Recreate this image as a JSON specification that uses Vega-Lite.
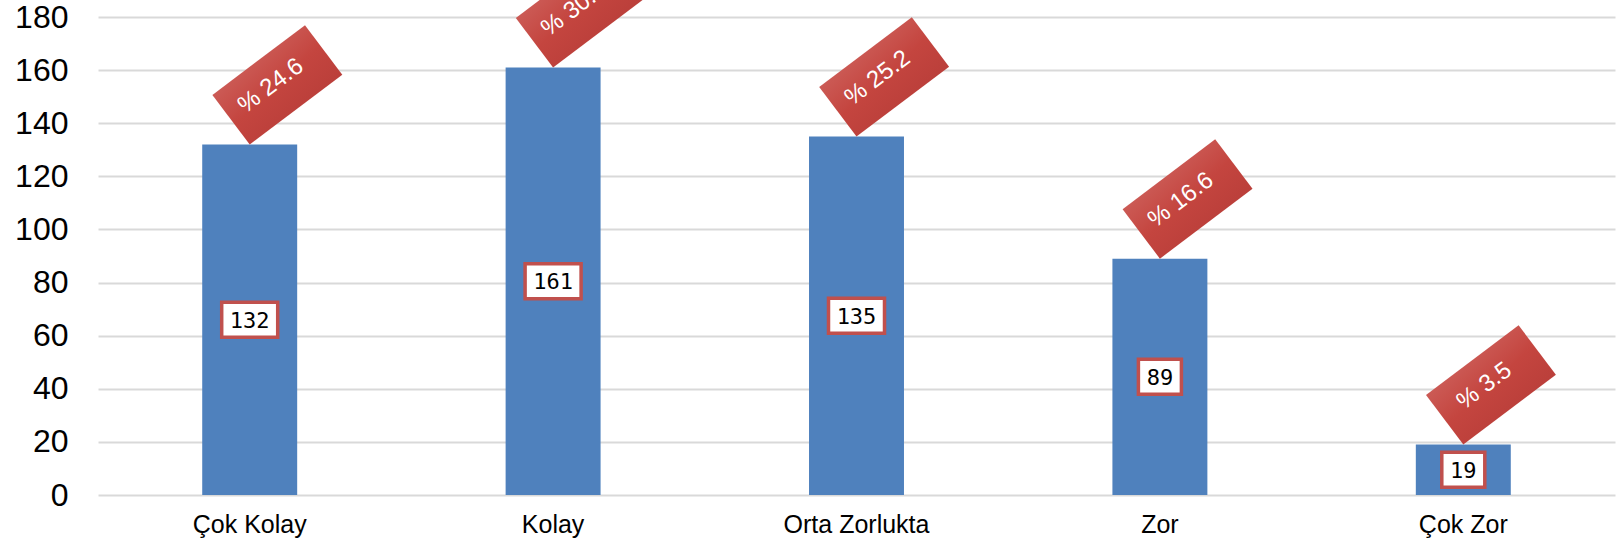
{
  "$schema": "https://vega.github.io/schema/vega-lite/v6.json",
  "width": 1517,
  "height": 478,
  "autosize": {"type": "none"},
  "padding": {"left": 98, "top": 17, "right": 5, "bottom": 55},
  "background": "white",
  "config": {"view": {"stroke": null}, "font": "Liberation Sans"},
  "data": {"values": [
    {"cat": "Çok Kolay", "n": 132, "pct": "% 24.6"},
    {"cat": "Kolay", "n": 161, "pct": "% 30.0"},
    {"cat": "Orta Zorlukta", "n": 135, "pct": "% 25.2"},
    {"cat": "Zor", "n": 89, "pct": "% 16.6"},
    {"cat": "Çok Zor", "n": 19, "pct": "% 3.5"}
  ]},
  "encoding": {
    "x": {
      "field": "cat", "type": "nominal", "sort": null,
      "scale": {"paddingInner": 0.687, "paddingOuter": 0.3435},
      "axis": {"title": null, "domain": false, "ticks": false, "grid": false, "labelAngle": 0, "labelFontSize": 25, "labelColor": "#000000", "labelPadding": 17, "labelFont": "Liberation Sans"}
    }
  },
  "layer": [
    {
      "mark": {"type": "bar", "color": "#4F81BD"},
      "encoding": {
        "y": {"field": "n", "type": "quantitative",
          "scale": {"domain": [0, 180], "nice": false},
          "axis": {"title": null, "domain": false, "ticks": false, "values": [0, 20, 40, 60, 80, 100, 120, 140, 160, 180], "gridColor": "#D9D9D9", "gridWidth": 2, "labelFontSize": 32, "labelPadding": 30, "labelColor": "#000000", "labelFont": "Liberation Sans"}}
      }
    },
    {
      "layer": [
        {
          "mark": {"type": "point", "filled": true, "opacity": 1, "size": 4, "strokeWidth": 0,
            "shape": "M0,0L92.6,-69.8L55.3,-119.3L-37.3,-49.5Z",
            "fill": {"gradient": "linear", "x1": 0, "y1": 0, "x2": 1, "y2": 1, "stops": [{"offset": 0, "color": "#D67874"}, {"offset": 0.5, "color": "#C4453F"}, {"offset": 1, "color": "#AE3734"}]}}
        },
        {
          "mark": {"type": "text", "angle": -37, "color": "#FFFFFF", "fontSize": 24, "align": "center", "baseline": "middle", "dx": 52, "dy": -34, "font": "Liberation Sans"},
          "encoding": {"text": {"field": "pct"}}
        }
      ],
      "encoding": {
        "y": {"field": "n", "type": "quantitative", "scale": {"domain": [0, 180], "nice": false}, "axis": null}
      }
    },
    {
      "layer": [
        {
          "mark": {"type": "point", "filled": true, "opacity": 1, "size": 4, "fill": "#FFFFFF", "stroke": "#C0504D", "strokeWidth": 3.5},
          "encoding": {
            "shape": {"condition": {"test": "datum.n >= 100", "value": "M-28,-17.5H28V17.5H-28Z"}, "value": "M-21.5,-17.5H21.5V17.5H-21.5Z"}
          }
        },
        {
          "mark": {"type": "text", "color": "#000000", "fontSize": 22, "font": "DejaVu Sans Mono", "align": "center", "baseline": "middle", "dy": 1},
          "encoding": {"text": {"field": "n"}}
        }
      ],
      "encoding": {
        "y": {"field": "n", "type": "quantitative", "scale": {"domain": [0, 360], "nice": false}, "axis": null}
      }
    }
  ],
  "resolve": {"scale": {"y": "independent"}}
}
